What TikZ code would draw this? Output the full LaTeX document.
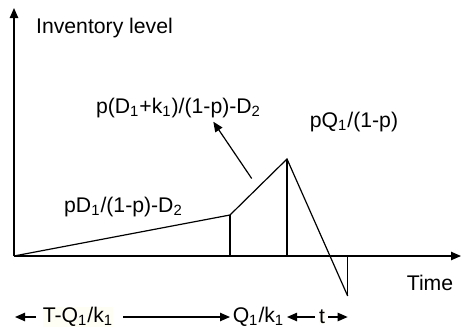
\documentclass[tikz,border=0pt]{standalone}
\usepackage{fontspec}
\setmainfont{Liberation Sans}
\usetikzlibrary{arrows.meta}
\begin{document}
\begin{tikzpicture}[x=0.5pt,y=-0.5pt,
  ln/.style={line width=0.6pt},
  arr/.style={ln,-{Triangle[length=5pt,width=4.2pt]}},
  lbl/.style={inner sep=0pt,font=\fontsize{10.6}{12.7}\selectfont}]
\useasboundingbox (0,0) rectangle (461,333);
% axes
\coordinate (O) at (14,256);
\coordinate (ytop) at (14,8);
\coordinate (xend) at (461,256);
\draw[arr] (O) -- (ytop);
\draw[arr] (O) -- (xend);
% inventory curve
\coordinate (A) at (230,215);
\coordinate (Aax) at (230,256);
\coordinate (P) at (287,159);
\coordinate (Pax) at (287,256);
\coordinate (B) at (347.7,296);
\coordinate (Bax) at (347.7,256);
\draw[ln] (O) -- (A) -- (P) -- (B);
\draw[ln] (A) -- (Aax);
\draw[ln] (P) -- (Pax);
\draw[ln] (B) -- (Bax);
% labels
\node[lbl] (inv) at (104.5,28) {Inventory level};
\node[lbl] (pdk) at (178.5,108) {p(D\textsubscript{1}+k\textsubscript{1})/(1-p)-D\textsubscript{2}};
\node[lbl] (pq) at (354,122) {pQ\textsubscript{1}/(1-p)};
\node[lbl] (pd) at (123.5,207) {pD\textsubscript{1}/(1-p)-D\textsubscript{2}};
\node[lbl] (time) at (430,283) {Time};
\coordinate (as) at (251.7,178.5);
\coordinate (at) at (213.3,121.7);
\draw[arr] (as) -- (at);
% bottom dimension row
\node[lbl,fill=yellow!4] (tq) at (78,317) {T-Q\textsubscript{1}/k\textsubscript{1}};
\node[lbl] (qk) at (258.5,317) {Q\textsubscript{1}/k\textsubscript{1}};
\node[lbl,fill=yellow!4] (t) at (322,317) {t};
\coordinate (b1) at (15,317);
\coordinate (b1s) at (36,317);
\coordinate (b2s) at (123,317);
\coordinate (b2) at (230,317);
\coordinate (b3s) at (315,317);
\coordinate (b3) at (287,317);
\coordinate (b4s) at (328,317);
\coordinate (b4) at (347.7,317);
\draw[arr] (b1s) -- (b1);
\draw[arr] (b2s) -- (b2);
\draw[arr] (b3s) -- (b3);
\draw[arr] (b4s) -- (b4);
\end{tikzpicture}
\end{document}
